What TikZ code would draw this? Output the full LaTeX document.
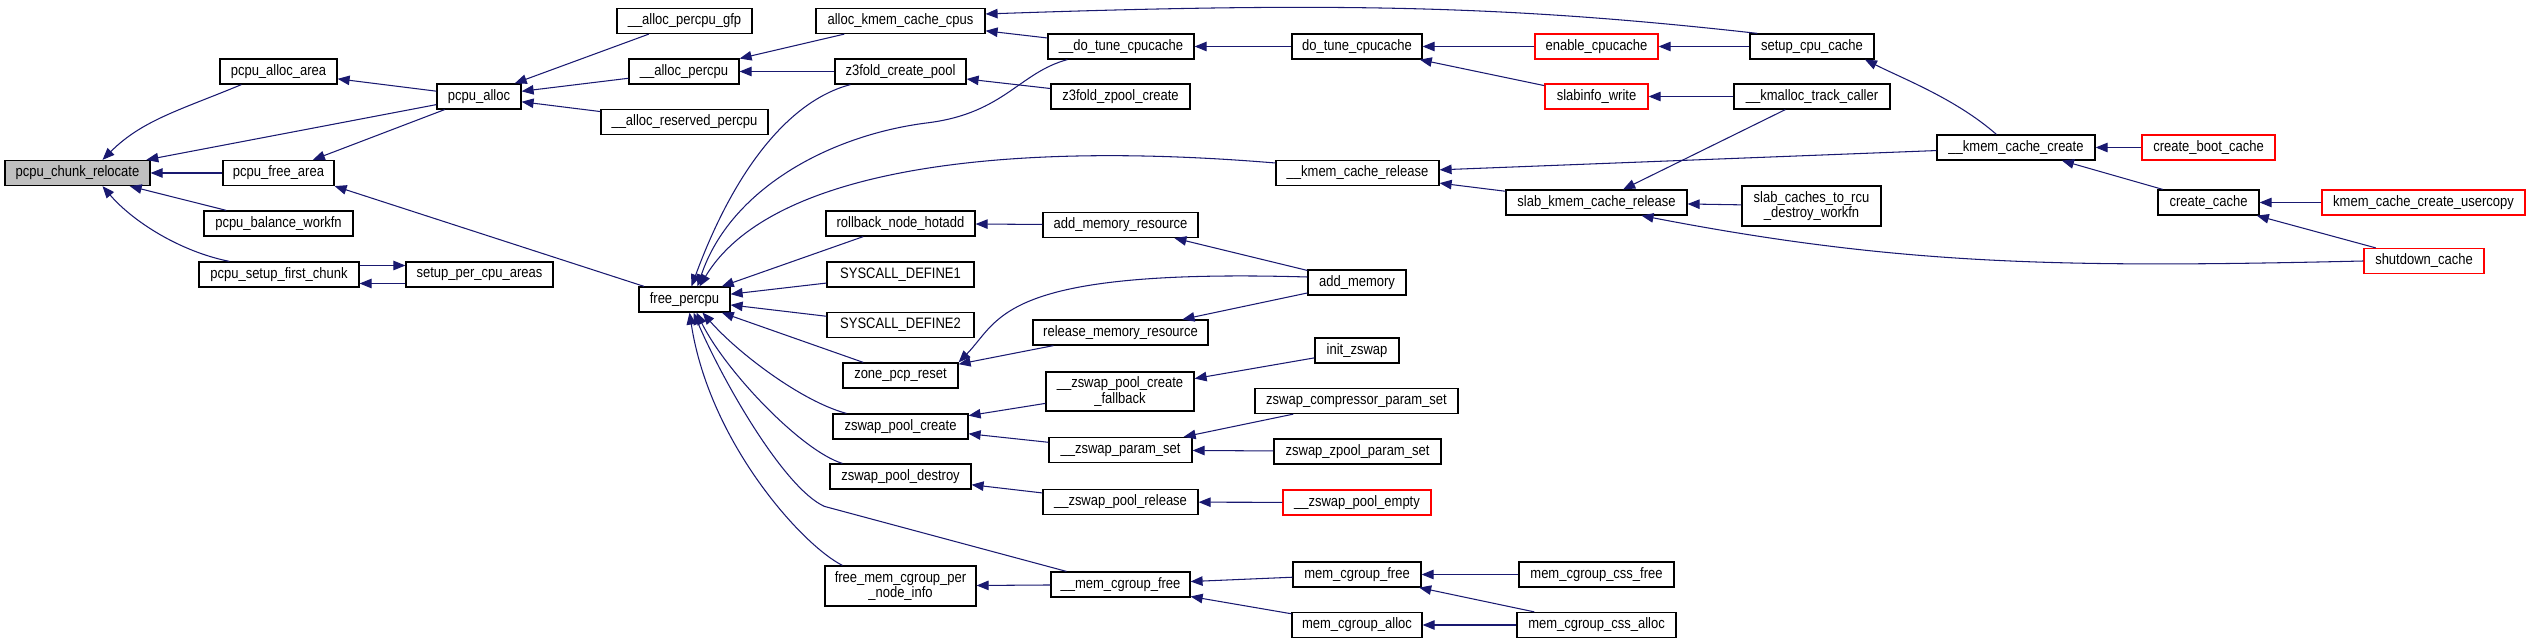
\documentclass[tikz,border=0pt]{standalone}
\usepackage{fontspec}
\setmainfont[FakeStretch=0.86]{Liberation Sans}
\usepackage{tikz}
\usetikzlibrary{arrows.meta}
\definecolor{edgeblue}{HTML}{191970}

\begin{document}
\begin{tikzpicture}[x=0.02cm, y=-0.02cm,
  fn/.style={rectangle, draw=black, line width=0.7pt, fill=white, minimum height=0.5cm, inner sep=1pt, align=center, font=\fontsize{8.6}{8.6}\selectfont},
  fnred/.style={fn, draw=red},
  fnsel/.style={fn, fill=black!25},
  call/.style={-{Stealth[length=0.24cm, width=0.19cm, inset=0pt]}, color=edgeblue, line width=0.6pt}]
\useasboundingbox (0,0) rectangle (2531,644);
\node[fnsel, minimum width=2.90cm] (relocate) at (77.5,173) {pcpu\_chunk\_relocate};
\node[fn, minimum width=2.34cm] (allocarea) at (278.5,71.5) {pcpu\_alloc\_area};
\node[fn, minimum width=1.68cm] (pcpualloc) at (479,96.5) {pcpu\_alloc};
\node[fn, minimum width=2.22cm] (freearea) at (278.5,173) {pcpu\_free\_area};
\node[fn, minimum width=2.98cm] (balance) at (278.5,223.5) {pcpu\_balance\_workfn};
\node[fn, minimum width=3.20cm] (firstchunk) at (279,274.5) {pcpu\_setup\_first\_chunk};
\node[fn, minimum width=2.94cm] (percpuareas) at (479.5,274.5) {setup\_per\_cpu\_areas};
\node[fn, minimum width=2.70cm] (allocgfp) at (684.5,21) {\_\_alloc\_percpu\_gfp};
\node[fn, minimum width=2.20cm] (allocpercpu) at (684,71.5) {\_\_alloc\_percpu};
\node[fn, minimum width=3.34cm] (allocreserved) at (684.5,122) {\_\_alloc\_reserved\_percpu};
\node[fn, minimum width=1.82cm] (freepercpu) at (684.5,299.5) {free\_percpu};
\node[fn, minimum width=3.38cm] (kmemcpus) at (900.5,21) {alloc\_kmem\_cache\_cpus};
\node[fn, minimum width=2.62cm] (z3create) at (900.5,71.5) {z3fold\_create\_pool};
\node[fn, minimum width=2.98cm] (rollback) at (900.5,223.5) {rollback\_node\_hotadd};
\node[fn, minimum width=2.94cm] (sysdef1) at (900.5,274.5) {SYSCALL\_DEFINE1};
\node[fn, minimum width=2.94cm] (sysdef2) at (900.5,325) {SYSCALL\_DEFINE2};
\node[fn, minimum width=2.30cm] (zonereset) at (900.5,375.5) {zone\_pcp\_reset};
\node[fn, minimum width=2.70cm] (zpcreate) at (900.5,426.5) {zswap\_pool\_create};
\node[fn, minimum width=2.82cm] (zpdestroy) at (900.5,476.5) {zswap\_pool\_destroy};
\node[fn, minimum width=3.02cm, minimum height=0.8cm] (cginfo) at (900.5,586) {free\_mem\_cgroup\_per\\\_node\_info};
\node[fn, minimum width=2.92cm] (dotunex) at (1121,46.5) {\_\_do\_tune\_cpucache};
\node[fn, minimum width=2.78cm] (z3zpool) at (1120.5,96.5) {z3fold\_zpool\_create};
\node[fn, minimum width=3.10cm] (addmemres) at (1120.5,225) {add\_memory\_resource};
\node[fn, minimum width=3.50cm] (relmemres) at (1120.5,332.5) {release\_memory\_resource};
\node[fn, minimum width=2.96cm, minimum height=0.78cm] (fallback) at (1120,391.5) {\_\_zswap\_pool\_create\\\_fallback};
\node[fn, minimum width=2.86cm] (paramset) at (1120.5,450) {\_\_zswap\_param\_set};
\node[fn, minimum width=3.10cm] (poolrel) at (1120.5,502) {\_\_zswap\_pool\_release};
\node[fn, minimum width=2.78cm] (memcgfreex) at (1120.5,584.5) {\_\_mem\_cgroup\_free};
\node[fn, minimum width=3.26cm] (kmemrel) at (1357.5,173) {\_\_kmem\_cache\_release};
\node[fn, minimum width=2.60cm] (dotune) at (1357,46.5) {do\_tune\_cpucache};
\node[fn, minimum width=1.96cm] (addmemory) at (1357,282.5) {add\_memory};
\node[fn, minimum width=1.68cm] (initzswap) at (1357,350.5) {init\_zswap};
\node[fn, minimum width=4.06cm] (compparam) at (1356.5,401) {zswap\_compressor\_param\_set};
\node[fn, minimum width=3.34cm] (zpoolparam) at (1357.5,451.5) {zswap\_zpool\_param\_set};
\node[fnred, minimum width=2.96cm] (poolempty) at (1357,502.5) {\_\_zswap\_pool\_empty};
\node[fn, minimum width=2.56cm] (memcgfree) at (1357,574.5) {mem\_cgroup\_free};
\node[fn, minimum width=2.60cm] (memcgalloc) at (1357,625) {mem\_cgroup\_alloc};
\node[fnred, minimum width=2.46cm] (enablecc) at (1596.5,46.5) {enable\_cpucache};
\node[fnred, minimum width=2.06cm] (slabinfo) at (1596.5,96.5) {slabinfo\_write};
\node[fn, minimum width=3.62cm] (slabrel) at (1596.5,202.5) {slab\_kmem\_cache\_release};
\node[fn, minimum width=3.10cm] (cssfree) at (1596.5,574.5) {mem\_cgroup\_css\_free};
\node[fn, minimum width=3.18cm] (cssalloc) at (1596.5,625) {mem\_cgroup\_css\_alloc};
\node[fn, minimum width=2.48cm] (setupcc) at (1812,46.5) {setup\_cpu\_cache};
\node[fn, minimum width=3.12cm] (kmalloctc) at (1812,96.5) {\_\_kmalloc\_track\_caller};
\node[fn, minimum width=2.78cm, minimum height=0.8cm] (rcuwork) at (1811.5,206) {slab\_caches\_to\_rcu\\\_destroy\_workfn};
\node[fn, minimum width=3.16cm] (kmemcreate) at (2016,147.5) {\_\_kmem\_cache\_create};
\node[fnred, minimum width=2.66cm] (bootcache) at (2208.5,147.5) {create\_boot\_cache};
\node[fn, minimum width=2.02cm] (createcache) at (2208.5,202.5) {create\_cache};
\node[fnred, minimum width=4.06cm] (usercopy) at (2423.5,202.5) {kmem\_cache\_create\_usercopy};
\node[fnred, minimum width=2.40cm] (shutdown) at (2424,261) {shutdown\_cache};
% callers into pcpu_chunk_relocate
\draw[call] ([xshift=0.44cm]allocarea.south west) .. controls +(-60,25) and +(40,-40) .. ([xshift=0.5cm]relocate.north);
\draw[call] (pcpualloc) -- (relocate);
\draw[call] (freearea) -- (relocate);
\draw[call] (balance) -- (relocate);
\draw[call] ([xshift=0.62cm]firstchunk.north west) .. controls +(-50,-10) and +(30,35) .. ([xshift=0.5cm]relocate.south);
\draw[call] (pcpualloc) -- (allocarea);
\draw[call] (pcpualloc) -- (freearea);
\draw[call] ([yshift=0.18cm]firstchunk.east) -- ([yshift=0.18cm]percpuareas.west);
\draw[call] ([yshift=-0.18cm]percpuareas.west) -- ([yshift=-0.18cm]firstchunk.east);
\draw[call] (freepercpu) -- (freearea.south east);
\draw[call] (allocgfp) -- (pcpualloc);
\draw[call] (allocpercpu) -- (pcpualloc);
\draw[call] (allocreserved) -- (pcpualloc);
\draw[call] (kmemcpus) -- (allocpercpu);
\draw[call] (z3create) -- (allocpercpu);
\draw[call] (dotunex) -- (kmemcpus);
\draw[call] ([xshift=0.16cm]setupcc.north west) .. controls +(-250,-28) and +(350,-12) .. ([yshift=0.14cm]kmemcpus.east);
\draw[call] (dotune) -- (dotunex);
\draw[call] (z3zpool) -- (z3create);
% callers into free_percpu
\draw[call] ([xshift=0.4cm]dotunex.south west) .. controls +(-48,13) and +(75,-10) .. ++(-138,63) .. controls +(-100,12) and +(32.5,-97) .. ([xshift=0.26cm]freepercpu.north);
\draw[call] ([xshift=0.32cm]z3create.south west) .. controls +(-61,16) and +(43,-117) .. ([xshift=0.14cm]freepercpu.north);
\draw[call] ([yshift=0.2cm]kmemrel.west) .. controls +(-276,-23) and +(70.5,-117) .. ([xshift=0.3cm]freepercpu.north);
\draw[call] (rollback) -- (freepercpu);
\draw[call] (sysdef1) -- (freepercpu);
\draw[call] (sysdef2) -- (freepercpu);
\draw[call] (zonereset) -- (freepercpu);
\draw[call] ([xshift=0.28cm]zpcreate.north west) .. controls +(-45,-12) and +(35,40) .. ([xshift=0.36cm]freepercpu.south);
\draw[call] ([xshift=0.26cm]zpdestroy.north west) .. controls +(-40,-12) and +(30,60) .. ([xshift=0.24cm]freepercpu.south);
\draw[call] ([xshift=0.32cm]memcgfreex.north west) -- ++(-242,-65) .. controls +(-40,-18) and +(30,70) .. ([xshift=0.18cm]freepercpu.south);
\draw[call] ([xshift=0.36cm]cginfo.north west) .. controls +(-40,-20) and +(20,130) .. ([xshift=0.1cm]freepercpu.south);
\draw[call] (addmemres) -- (rollback);
\draw[call] (addmemory) -- (addmemres);
\draw[call] ([yshift=0.11cm]addmemory.west) .. controls +(-308,-9) and +(42,-43) .. (zonereset.north east);
\draw[call] (addmemory) -- (relmemres);
\draw[call] (relmemres) -- (zonereset);
\draw[call] (fallback) -- (zpcreate);
\draw[call] (paramset) -- (zpcreate);
\draw[call] (initzswap) -- (fallback);
\draw[call] (compparam) -- (paramset);
\draw[call] (zpoolparam) -- (paramset);
\draw[call] (poolrel) -- (zpdestroy);
\draw[call] (poolempty) -- (poolrel);
\draw[call] (memcgfreex) -- (cginfo);
\draw[call] (memcgfree) -- (memcgfreex);
\draw[call] (memcgalloc) -- (memcgfreex);
\draw[call] (cssfree) -- (memcgfree);
\draw[call] (cssalloc) -- (memcgfree);
\draw[call] (cssalloc) -- (memcgalloc);
% slab side
\draw[call] (enablecc) -- (dotune);
\draw[call] (slabinfo) -- (dotune);
\draw[call] (setupcc) -- (enablecc);
\draw[call] (kmalloctc) -- (slabinfo);
\draw[call] (kmalloctc) -- (slabrel);
\draw[call] (kmemcreate) -- (kmemrel);
\draw[call] (slabrel) -- (kmemrel);
\draw[call] (rcuwork) -- (slabrel);
\draw[call] (shutdown.west) .. controls +(-300,7) and +(259,50) .. ([xshift=0.9cm]slabrel.south);
\draw[call] ([xshift=1.2cm]kmemcreate.north west) .. controls +(-40,-35) and +(40,20) .. ([xshift=1.06cm]setupcc.south);
\draw[call] (bootcache) -- (kmemcreate);
\draw[call] (createcache) -- (kmemcreate);
\draw[call] (usercopy) -- (createcache);
\draw[call] (shutdown) -- (createcache);
\end{tikzpicture}
\end{document}
